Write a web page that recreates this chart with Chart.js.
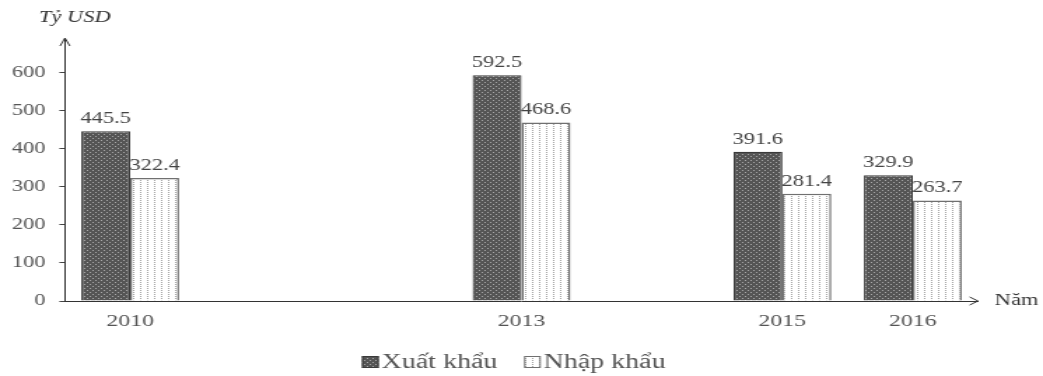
<!DOCTYPE html>
<html lang="vi">
<head>
<meta charset="utf-8">
<title>Xuất nhập khẩu</title>
<script src="https://cdn.jsdelivr.net/npm/chart.js@4/dist/chart.umd.min.js"></script>
<style>
  html, body { margin: 0; padding: 0; background: #fff; overflow: hidden; }
  /* the chart is laid out in a narrower box and widened to 1043px */
  #wrap { width: 745px; height: 376px; transform: scaleX(1.4); transform-origin: 0 0; }
</style>
</head>
<body>
<div id="wrap"><canvas id="chart"></canvas></div>
<script>
// Years on the horizontal (time-proportional) axis
const years = [2010, 2013, 2015, 2016];
// Export and import values, billion USD
const exportValues = [445.5, 592.5, 391.6, 329.9];
const importValues = [322.4, 468.6, 281.4, 263.7];
// Tick values on the vertical axis
const yTickValues = [0, 100, 200, 300, 400, 500, 600];

const SERIF = '"Liberation Serif", "Times New Roman", serif';

function makePattern(w, h, base, dots, dotColor) {
  const c = document.createElement('canvas');
  c.width = w; c.height = h;
  const g = c.getContext('2d');
  g.fillStyle = base;
  g.fillRect(0, 0, w, h);
  g.fillStyle = dotColor;
  dots.forEach(([x, y]) => g.fillRect(x, y, 1, 1));
  return g.createPattern(c, 'repeat');
}

// dark stippled fill for exports, white with dotted verticals for imports
const exportFill = makePattern(4, 4, '#555555', [[0, 0], [2, 2]], '#a8a8a8');
const importFill = makePattern(5, 2, '#ffffff', [[0, 0]], '#a0a0a0');

const decorations = {
  id: 'decorations',
  afterDatasetsDraw(chart) {
    const ctx = chart.ctx;
    const { left, right, top, bottom } = chart.chartArea;
    ctx.save();
    // value labels above each bar
    ctx.font = '16px ' + SERIF;
    ctx.fillStyle = '#444';
    ctx.textAlign = 'center';
    ctx.textBaseline = 'alphabetic';
    chart.data.datasets.forEach((ds, di) => {
      chart.getDatasetMeta(di).data.forEach((bar, i) => {
        ctx.fillText(ds.data[i].y.toFixed(1), bar.x, bar.y - 8);
      });
    });
    // arrow heads on both axes
    ctx.strokeStyle = '#333';
    ctx.lineWidth = 1;
    ctx.beginPath();
    ctx.moveTo(left - 3.5, top + 8);
    ctx.lineTo(left, top);
    ctx.lineTo(left + 3.5, top + 8);
    ctx.stroke();
    ctx.beginPath();
    ctx.moveTo(right - 6, bottom - 4);
    ctx.lineTo(right, bottom);
    ctx.lineTo(right - 6, bottom + 4);
    ctx.stroke();
    // axis titles
    ctx.fillStyle = '#333';
    ctx.font = 'italic 16px ' + SERIF;
    ctx.textAlign = 'center';
    ctx.textBaseline = 'middle';
    ctx.fillText('Tỷ USD', left + 7, 18);
    ctx.font = '16px ' + SERIF;
    ctx.textAlign = 'left';
    ctx.fillText('Năm', right + 12, bottom);

    // legend row under the axis: swatch tight against its label
    ctx.font = '20px ' + SERIF;
    ctx.textBaseline = 'middle';
    const box = 12, gap = 2, itemGap = 19, cy = 362;
    const items = chart.data.datasets.map(ds => ({
      ds, w: box + gap + ctx.measureText(ds.label).width
    }));
    const total = items.reduce((s, it) => s + it.w, 0) + itemGap * (items.length - 1);
    let x = 367 - total / 2;
    items.forEach(({ ds, w }) => {
      ctx.fillStyle = ds.backgroundColor;
      ctx.fillRect(x, cy - box / 2, box, box);
      ctx.strokeStyle = ds.borderColor;
      ctx.lineWidth = 1;
      ctx.strokeRect(x + 0.5, cy - box / 2 + 0.5, box - 1, box - 1);
      ctx.fillStyle = '#555';
      ctx.textAlign = 'left';
      ctx.fillText(ds.label, x + box + gap, cy + 1);
      x += w + itemGap;
    });
    ctx.restore();
  }
};

new Chart(document.getElementById('chart'), {
  type: 'bar',
  data: {
    datasets: [
      {
        label: 'Xuất khẩu',
        data: years.map((x, i) => ({ x, y: exportValues[i] })),
        backgroundColor: exportFill,
        borderColor: '#3a3a3a',
        borderWidth: 1.2
      },
      {
        label: 'Nhập khẩu',
        data: years.map((x, i) => ({ x, y: importValues[i] })),
        backgroundColor: importFill,
        borderColor: '#707070',
        borderWidth: 1.5
      }
    ]
  },
  options: {
    responsive: true,
    maintainAspectRatio: false,
    animation: false,
    categoryPercentage: 0.75,
    barPercentage: 1.0,
    layout: { padding: { left: 0, right: 46.4, top: 38, bottom: 39 } },
    scales: {
      x: {
        type: 'linear',
        min: 2009.5,
        max: 2016.5,
        offset: false,
        afterBuildTicks: (scale) => { scale.ticks = years.map(v => ({ value: v })); },
        afterFit: (scale) => { scale.height = 36; },
        grid: { display: false, drawTicks: false },
        border: { display: true, color: '#333', width: 1 },
        ticks: {
          autoSkip: false,
          maxRotation: 0,
          padding: 10,
          color: '#555',
          font: { family: SERIF, size: 17 },
          callback: (v) => String(v)
        }
      },
      y: {
        min: 0,
        max: 690,
        afterBuildTicks: (scale) => { scale.ticks = yTickValues.map(v => ({ value: v })); },
        afterFit: (scale) => { scale.width = 46.4; },
        grid: { drawOnChartArea: false, drawTicks: true, tickLength: 4, color: '#444' },
        border: { display: true, color: '#333', width: 1 },
        ticks: {
          padding: 10,
          color: '#555',
          font: { family: SERIF, size: 16 },
          callback: (v) => String(v)
        }
      }
    },
    plugins: {
      legend: { display: false },
      tooltip: { enabled: false }
    }
  },
  plugins: [decorations]
});
</script>
</body>
</html>
